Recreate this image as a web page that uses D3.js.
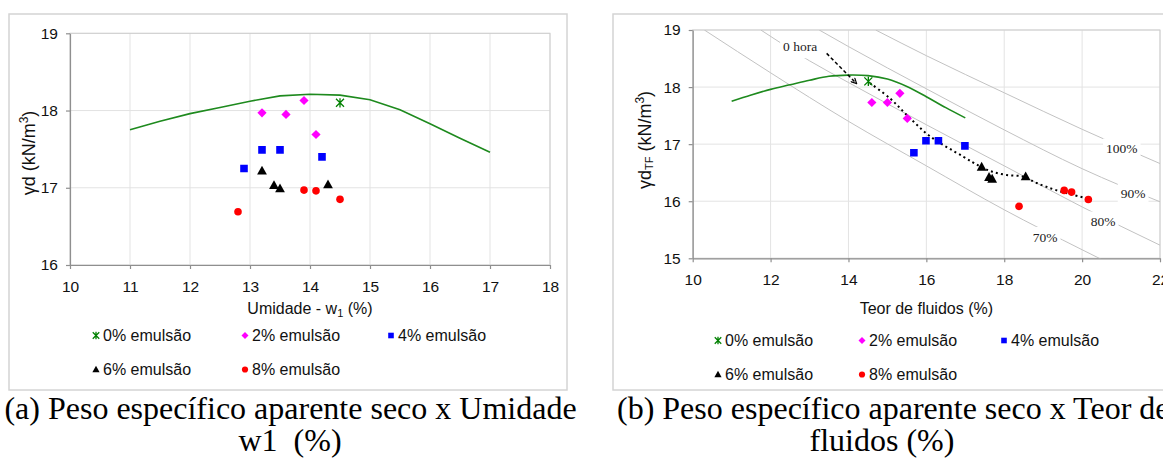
<!DOCTYPE html>
<html><head><meta charset="utf-8">
<script src="https://cdn.jsdelivr.net/npm/d3@7"></script>
<style>
html,body{margin:0;padding:0;background:#fff;}
svg{display:block;}
</style></head>
<body><svg id="fig" width="1163" height="459"></svg>
<script>
// ---------- data ----------
// compaction curve (same curve in both panels)
const curvaW = [11, 11.5, 12, 12.5, 13, 13.5, 14, 14.5, 15, 15.5, 16, 16.5, 17];
const curvaGamma = [17.75, 17.86, 17.96, 18.04, 18.12, 18.19, 18.21, 18.2, 18.14, 18.01, 17.83, 17.64, 17.46];

const serieNomes = ["0% emulsão", "2% emulsão", "4% emulsão", "6% emulsão", "8% emulsão"];

// (a) dry unit weight vs moisture content w1
const umidadeW1 = [[14.5], [13.2, 13.6, 13.9, 14.1], [12.9, 13.2, 13.5, 14.2], [13.2, 13.4, 13.5, 14.3], [12.8, 13.9, 14.1, 14.5]];
const gammaD = [[18.1], [17.97, 17.95, 18.13, 17.69], [17.25, 17.49, 17.49, 17.4], [17.22, 17.03, 16.99, 17.04], [16.69, 16.97, 16.96, 16.85]];

// (b) dry unit weight vs fluid content
const teorFluidos = [[14.51], [14.6, 15.0, 15.32, 15.51], [15.68, 15.99, 16.31, 16.99], [17.42, 17.61, 17.69, 18.55], [18.38, 19.54, 19.73, 20.16]];
const gammaDTF = [[18.1], [17.73, 17.73, 17.89, 17.45], [16.85, 17.06, 17.06, 16.97], [16.6, 16.42, 16.39, 16.43], [15.91, 16.19, 16.16, 16.03]];

// saturation curves in panel (b)
const saturacaoRotulos = ["100%", "90%", "80%", "70%"];
const saturacaoW = [
  [14.7, 16, 18, 20, 22],
  [13.25, 14, 16, 18, 20, 22],
  [11.75, 13, 14, 16, 18, 20, 22],
  [10.3, 12, 14, 16, 18, 20, 20.5]
];
const saturacaoGamma = [
  [19.0, 18.55, 17.9, 17.26, 16.66],
  [19.0, 18.71, 17.97, 17.25, 16.57, 15.99],
  [19.0, 18.46, 18.08, 17.34, 16.62, 15.9, 15.23],
  [19.0, 18.25, 17.4, 16.62, 15.85, 15.15, 14.98]
];
const rotuloW = [21.02, 21.31, 20.54, 19.05];
const rotuloGamma = [16.92, 16.14, 15.64, 15.37];

// "0 hora" trend (dotted) and arrow
const tendenciaW = [14.55, 15.07, 15.5, 16.09, 16.95, 17.38, 17.68, 18.06, 18.49, 18.83, 19.35, 20.12];
const tendenciaGamma = [18.07, 17.8, 17.51, 17.14, 16.78, 16.61, 16.52, 16.46, 16.43, 16.32, 16.19, 16.05];
const setaW = [13.44, 14.21];
const setaGamma = [18.59, 18.06];
const notaTexto = "0 hora";
const notaPos = [12.76, 18.71];

// axis ticks
const xTicksA = [10, 11, 12, 13, 14, 15, 16, 17, 18];
const yTicksA = [16, 17, 18, 19];
const xTicksB = [10, 12, 14, 16, 18, 20, 22];
const yTicksB = [15, 16, 17, 18, 19];

// ---------- drawing ----------
const SANS = "'Liberation Sans', Arial, sans-serif";
const SERIF = "'Liberation Serif', 'Times New Roman', serif";
const cores = ["#008000", "#ff00ff", "#0000ff", "#000000", "#ff0000"];
const tipos = ["star", "diamond", "square", "triangle", "circle"];

const svg = d3.select("#fig");
svg.append("rect").attr("width", 1163).attr("height", 459).attr("fill", "#fff");
const defs = svg.append("defs");
defs.append("marker").attr("id", "ponta")
  .attr("viewBox", "0 0 10 10").attr("refX", 9).attr("refY", 5)
  .attr("markerWidth", 7).attr("markerHeight", 7).attr("markerUnits", "userSpaceOnUse")
  .attr("orient", "auto")
  .append("path").attr("d", "M1,1 L9,5 L1,9").attr("fill", "none")
  .attr("stroke", "#000").attr("stroke-width", 1.6);

// custom marker shapes
const symStar = { draw(ctx, size) { const r = Math.sqrt(size) / 2;
  ctx.moveTo(-r, -r); ctx.lineTo(r, r); ctx.moveTo(-r, r); ctx.lineTo(r, -r);
  ctx.moveTo(0, -r * 1.15); ctx.lineTo(0, r * 1.15); } };
const symDiamond = { draw(ctx, size) { const r = Math.sqrt(size) / 2;
  ctx.moveTo(0, -r); ctx.lineTo(r, 0); ctx.lineTo(0, r); ctx.lineTo(-r, 0); ctx.closePath(); } };
const symTriangle = { draw(ctx, size) { const h = Math.sqrt(size) / 2;
  ctx.moveTo(0, -h * 1.05); ctx.lineTo(h, h * 0.75); ctx.lineTo(-h, h * 0.75); ctx.closePath(); } };
const symSquare = { draw(ctx, size) { const h = Math.sqrt(size) / 2;
  ctx.rect(-h, -h, 2 * h, 2 * h); } };
const symCircle = { draw(ctx, size) { const r = Math.sqrt(size) / 2;
  ctx.moveTo(r, 0); ctx.arc(0, 0, r, 0, 2 * Math.PI); } };
const simbolos = { star: symStar, diamond: symDiamond, triangle: symTriangle, square: symSquare, circle: symCircle };

function marcador(g, tipo, cor, x, y, lado) {
  const p = g.append("path")
    .attr("d", d3.symbol(simbolos[tipo], lado * lado)())
    .attr("transform", `translate(${x},${y})`);
  if (tipo === "star") p.attr("fill", "none").attr("stroke", cor).attr("stroke-width", 1.3);
  else p.attr("fill", cor);
  return p;
}

const tamanhoPlot = { star: 8, diamond: 9.2, square: 7.6, triangle: 9.8, circle: 7.6 };
const tamanhoLegenda = { star: 6.5, diamond: 7, square: 5.6, triangle: 7.2, circle: 6.2 };

function painel(cfg) {
  const g = svg.append("g");
  // outer frame
  g.append("rect").attr("x", cfg.frame[0]).attr("y", cfg.frame[1])
    .attr("width", cfg.frame[2] - cfg.frame[0]).attr("height", cfg.frame[3] - cfg.frame[1])
    .attr("fill", "#fff").attr("stroke", "#d4d4d4").attr("stroke-width", 1.5);

  const x = d3.scaleLinear().domain(cfg.xDomain).range([cfg.plot[0], cfg.plot[2]]);
  const y = d3.scaleLinear().domain(cfg.yDomain).range([cfg.plot[3], cfg.plot[1]]);

  // grid
  const grid = g.append("g").attr("stroke", "#e3e3e3").attr("stroke-width", 1);
  cfg.xTicks.forEach(t => grid.append("line").attr("x1", x(t)).attr("x2", x(t))
    .attr("y1", cfg.plot[1]).attr("y2", cfg.plot[3]));
  cfg.yTicks.forEach(t => grid.append("line").attr("y1", y(t)).attr("y2", y(t))
    .attr("x1", cfg.plot[0]).attr("x2", cfg.plot[2]));
  g.append("rect").attr("x", cfg.plot[0]).attr("y", cfg.plot[1])
    .attr("width", cfg.plot[2] - cfg.plot[0]).attr("height", cfg.plot[3] - cfg.plot[1])
    .attr("fill", "none").attr("stroke", "#cdcdcd").attr("stroke-width", 1);

  // axes
  const ax = g.append("g").attr("transform", `translate(0,${cfg.plot[3]})`)
    .call(d3.axisBottom(x).tickValues(cfg.xTicks).tickFormat(d3.format("d"))
      .tickSize(4).tickSizeOuter(0).tickPadding(11.5));
  const ay = g.append("g").attr("transform", `translate(${cfg.plot[0]},0)`)
    .call(d3.axisLeft(y).tickValues(cfg.yTicks).tickFormat(d3.format("d"))
      .tickSize(4).tickSizeOuter(0).tickPadding(8));
  [ax, ay].forEach(a => {
    a.select(".domain").attr("stroke", "#8f8f8f").attr("stroke-width", 1.2);
    a.selectAll(".tick line").attr("stroke", "#8f8f8f").attr("stroke-width", 1.2);
    a.selectAll(".tick text").attr("fill", "#111").style("font-family", SANS)
      .style("font-size", cfg.tickFont + "px");
  });

  // clip region
  const clipId = "clip" + cfg.id;
  defs.append("clipPath").attr("id", clipId).append("rect")
    .attr("x", cfg.plot[0]).attr("y", cfg.plot[1])
    .attr("width", cfg.plot[2] - cfg.plot[0]).attr("height", cfg.plot[3] - cfg.plot[1]);
  const area = g.append("g").attr("clip-path", `url(#${clipId})`);

  if (cfg.extras) cfg.extras(area, x, y);

  // compaction curve
  const linha = d3.line().x(d => x(d[0])).y(d => y(d[1])).curve(cfg.curvaSuave ? d3.curveCatmullRom.alpha(0.5) : d3.curveLinear);
  area.append("path").datum(curvaW.map((w, i) => [w, curvaGamma[i]]))
    .attr("d", linha).attr("fill", "none").attr("stroke", "#1e8a1e").attr("stroke-width", 1.6);

  if (cfg.extrasTopo) cfg.extrasTopo(area, x, y);

  // points
  cfg.xs.forEach((serie, s) => {
    serie.forEach((v, i) => marcador(area, tipos[s], cores[s], x(v), y(cfg.ys[s][i]), tamanhoPlot[tipos[s]]));
  });

  // axis titles
  const tx = g.append("text").attr("x", (cfg.plot[0] + cfg.plot[2]) / 2).attr("y", cfg.xTitleY)
    .attr("text-anchor", "middle").style("font-family", SANS).style("font-size", "16px").attr("fill", "#111");
  cfg.xTitle(tx);
  const ty = g.append("text").attr("transform", `translate(${cfg.yTitlePos[0]},${cfg.yTitlePos[1]}) rotate(-90)`)
    .attr("text-anchor", "middle").style("font-family", SANS).style("font-size", "18px").attr("fill", "#111");
  cfg.yTitle(ty);

  // legend
  const leg = g.append("g");
  const slots = [[0, 0], [1, 0], [2, 0], [0, 1], [1, 1]];
  serieNomes.forEach((nome, s) => {
    const [c, r] = slots[s];
    const mx = cfg.legX[c], my = cfg.legY[r];
    marcador(leg, tipos[s], cores[s], mx, my, tamanhoLegenda[tipos[s]]);
    leg.append("text").attr("x", mx + 7).attr("y", my).attr("dy", "0.36em")
      .style("font-family", SANS).style("font-size", "16px").attr("fill", "#111").text(nome);
  });

  // caption
  cfg.caption.forEach(l => {
    svg.append("text").attr("x", l.x).attr("y", l.y).attr("text-anchor", l.anchor)
      .style("font-family", SERIF).style("font-size", "32px").style("white-space", "pre")
      .attr("fill", "#000").text(l.t);
  });
}

function rotuloComFundo(g, texto, cx, cy) {
  const t = g.append("text").attr("x", cx).attr("y", cy).attr("dy", "0.35em")
    .attr("text-anchor", "middle").style("font-family", SERIF).style("font-size", "13.5px")
    .attr("fill", "#222").text(texto);
  const b = t.node().getBBox();
  g.insert("rect", () => t.node()).attr("x", b.x - 3).attr("y", b.y - 3)
    .attr("width", b.width + 6).attr("height", b.height + 7).attr("fill", "#fff");
}

// panel (a)
painel({
  id: "A", frame: [9, 14, 567, 390], plot: [70, 33.3, 550, 265],
  xDomain: [10, 18], yDomain: [16, 19], xTicks: xTicksA, yTicks: yTicksA, tickFont: 15.5,
  xs: umidadeW1, ys: gammaD, curvaSuave: false,
  xTitleY: 314,
  xTitle: t => { t.append("tspan").text("Umidade - w");
    t.append("tspan").attr("dy", 3).style("font-size", "11px").text("1");
    t.append("tspan").attr("dy", -3).text(" (%)"); },
  yTitlePos: [35, 153],
  yTitle: t => { t.append("tspan").text("γd (kN/m");
    t.append("tspan").attr("dy", -7).style("font-size", "12px").text("3");
    t.append("tspan").attr("dy", 7).text(")"); },
  legX: [96, 245, 391], legY: [335.5, 369.5],
  caption: [{ t: "(a) Peso específico aparente seco x Umidade", x: 290.5, y: 419, anchor: "middle" },
            { t: "w1  (%)", x: 290, y: 451, anchor: "middle" }]
});

// panel (b)
painel({
  id: "B", frame: [613, 14, 1185, 390], plot: [692.7, 30, 1160, 258.3],
  xDomain: [10, 22], yDomain: [15, 19], xTicks: xTicksB, yTicks: yTicksB, tickFont: 15.5,
  xs: teorFluidos, ys: gammaDTF, curvaSuave: true,
  xTitleY: 314,
  xTitle: t => t.text("Teor de fluidos (%)"),
  yTitlePos: [651, 140],
  yTitle: t => { t.append("tspan").text("γd");
    t.append("tspan").attr("dy", 2).style("font-size", "11px").text("TF");
    t.append("tspan").attr("dy", -2).text(" (kN/m");
    t.append("tspan").attr("dy", -7).style("font-size", "12px").text("3");
    t.append("tspan").attr("dy", 7).text(")"); },
  legX: [718, 862, 1004], legY: [340.5, 374.5],
  extras: (area, x, y) => {
    const linha = d3.line().x(d => x(d[0])).y(d => y(d[1])).curve(d3.curveMonotoneX);
    saturacaoW.forEach((ws, k) => {
      area.append("path").datum(ws.map((w, i) => [w, saturacaoGamma[k][i]]))
        .attr("d", linha).attr("fill", "none").attr("stroke", "#c2c2c2").attr("stroke-width", 1);
    });
    saturacaoRotulos.forEach((r, k) => rotuloComFundo(area, r, x(rotuloW[k]), y(rotuloGamma[k])));
    rotuloComFundo(area, notaTexto, x(notaPos[0]), y(notaPos[1]));
  },
  extrasTopo: (area, x, y) => {
    const linha = d3.line().x(d => x(d[0])).y(d => y(d[1])).curve(d3.curveCatmullRom.alpha(0.5));
    area.append("path").datum(tendenciaW.map((w, i) => [w, tendenciaGamma[i]]))
      .attr("d", linha).attr("fill", "none").attr("stroke", "#000")
      .attr("stroke-width", 2).attr("stroke-dasharray", "2,3.2");
    area.append("line").attr("x1", x(setaW[0])).attr("y1", y(setaGamma[0]))
      .attr("x2", x(setaW[1])).attr("y2", y(setaGamma[1]))
      .attr("stroke", "#000").attr("stroke-width", 1.5).attr("stroke-dasharray", "3.5,2.5")
      .attr("marker-end", "url(#ponta)");
  },
  caption: [{ t: "(b) Peso específico aparente seco x Teor de", x: 617, y: 419, anchor: "start" },
            { t: "fluidos (%)", x: 882, y: 451, anchor: "middle" }]
});
</script>
</body></html>
